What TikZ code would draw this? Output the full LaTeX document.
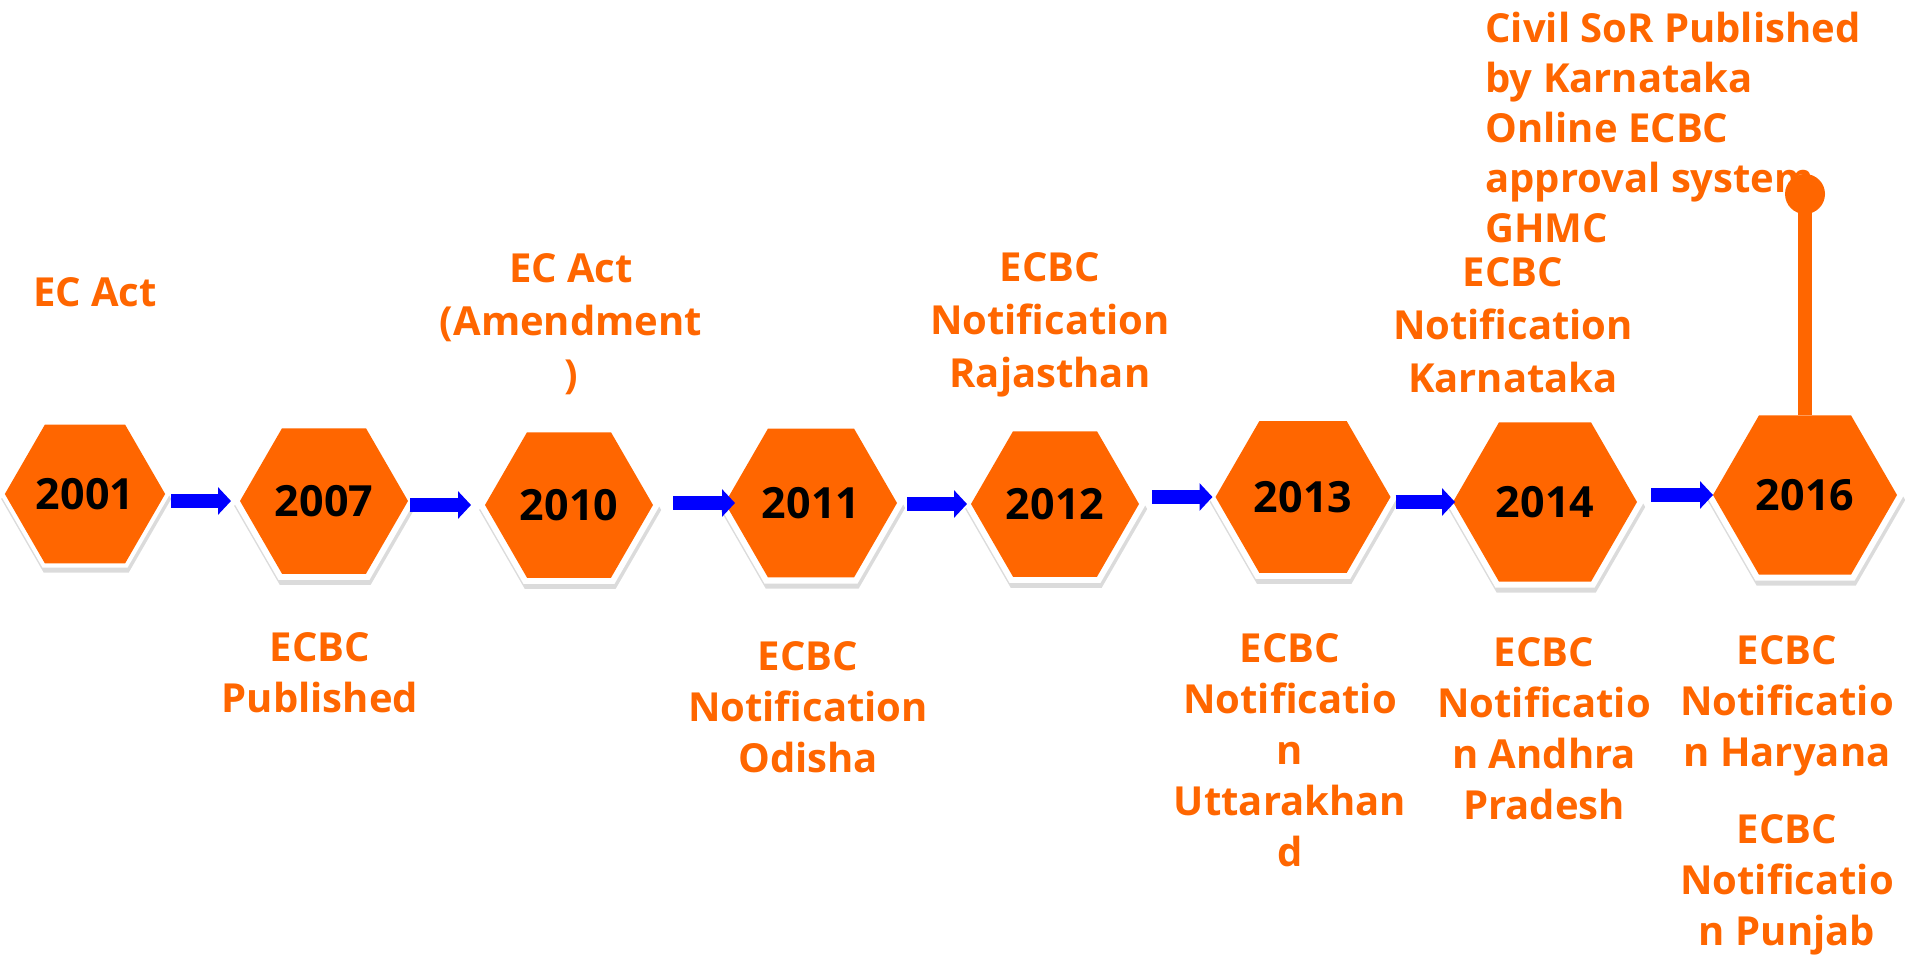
\documentclass[tikz,border=0pt]{standalone}
\usepackage{fontspec}
\setmainfont{Open Sans}
\usetikzlibrary{shapes.geometric,arrows.meta,shadows}
\definecolor{org}{HTML}{FF6600}
\definecolor{blu}{HTML}{0000FF}
\tikzset{
  hexbg/.style={regular polygon, regular polygon sides=6, fill=white, inner sep=0pt, outer sep=0pt,
    drop shadow={shadow xshift=0.6pt, shadow yshift=-2.5pt, opacity=0.2, fill=black!70}},
  hexfg/.style={regular polygon, regular polygon sides=6, fill=org, inner sep=0pt, outer sep=0pt,
    font=\fontsize{21.5pt}{25pt}\selectfont\bfseries, text=black},
  lbl/.style={text=org, font=\fontsize{20pt}{25.5pt}\selectfont\bfseries, align=center, inner sep=0pt},
  toplbl/.style={lbl, font=\fontsize{20pt}{26.5pt}\selectfont\bfseries},
  flow/.style={draw=blu, line width=7pt, -{Triangle[length=6.5pt,width=13.5pt]}},
  stem/.style={draw=org, line width=7pt},
}
\begin{document}
\begin{tikzpicture}[x=0.5pt,y=-0.5pt]
\useasboundingbox (0,0) rectangle (1905,957);
% white hexagon backgrounds
\node[hexbg, minimum size=85pt] (g2001) at (85,494) {};
\node[hexbg, minimum size=91pt] (g2007) at (324,501) {};
\node[hexbg, minimum size=91pt] (g2010) at (569,505) {};
\node[hexbg, minimum size=93pt] (g2011) at (811,503) {};
\node[hexbg, minimum size=91pt] (g2012) at (1055,504) {};
\node[hexbg, minimum size=94.5pt] (g2013) at (1303,497) {};
\node[hexbg, minimum size=99pt] (g2014) at (1545,502) {};
\node[hexbg, minimum size=99pt] (g2016) at (1805,495) {};
% orange hexagons
\node[hexfg, minimum size=78pt] (h2001) at (85,494) {2001};
\node[hexfg, minimum size=84pt] (h2007) at (324,501) {2007};
\node[hexfg, minimum size=84pt] (h2010) at (569,505) {2010};
\node[hexfg, minimum size=86pt] (h2011) at (811,503) {2011};
\node[hexfg, minimum size=84pt] (h2012) at (1055,504) {2012};
\node[hexfg, minimum size=87.5pt] (h2013) at (1303,497) {2013};
\node[hexfg, minimum size=92pt] (h2014) at (1545,502) {2014};
\node[hexfg, minimum size=92pt] (h2016) at (1805,495) {2016};
% arrows
\draw[flow] ([xshift=3pt]h2001.east |- h2007.west) -- ([xshift=-4.5pt]h2007.west);
\draw[flow] ([xshift=1pt]h2007.east |- h2010.west) -- ([xshift=-7pt]h2010.west);
\draw[flow] ([xshift=10pt]h2010.east |- h2011.west) -- ([xshift=5pt]h2011.west);
\draw[flow] ([xshift=5pt]h2011.east |- h2012.west) -- ([xshift=-2pt]h2012.west);
\draw[flow] ([xshift=6.5pt]h2012.east |- h2013.west) -- ([xshift=-1.5pt]h2013.west);
\draw[flow] ([xshift=2.5pt]h2013.east |- h2014.west) -- ([xshift=1pt]h2014.west);
\draw[flow] ([xshift=7pt]h2014.east |- h2016.west) -- (h2016.west);
% labels above
\node[lbl] (t2001) at (95,292) {EC Act};
\node[toplbl] (t2010) at (571,324) {EC Act\\(Amendment\\)};
\node[toplbl] (t2012) at (1050,325) {ECBC\\Notification\\Rajasthan};
\node[toplbl] (t2014) at (1513,325) {ECBC\\Notification\\Karnataka};
\node[lbl, align=left, anchor=west, font=\fontsize{20pt}{25pt}\selectfont\bfseries] (t2016) at (1485,127.5)
  {Civil SoR Published\\by Karnataka\\Online ECBC\\approval system\\GHMC};
% labels below
\node[lbl] (b2007) at (320,672.5) {ECBC\\Published};
\node[lbl] (b2011) at (808,707) {ECBC\\Notification\\Odisha};
\node[lbl] (b2013) at (1290,750.5) {ECBC\\Notificatio\\n\\Uttarakhan\\d};
\node[lbl] (b2014) at (1544,729) {ECBC\\Notificatio\\n Andhra\\Pradesh};
\node[lbl] (b2016a) at (1787,706) {ECBC\\Notificatio\\n Haryana};
\node[lbl] (b2016b) at (1787,884.5) {ECBC\\Notificatio\\n Punjab};
% stem and dot
\node[circle, fill=org, minimum size=20pt, inner sep=0pt] (dot) at (1805,194) {};
\draw[stem] (dot.center) -- (h2016.north);
\end{tikzpicture}
\end{document}
